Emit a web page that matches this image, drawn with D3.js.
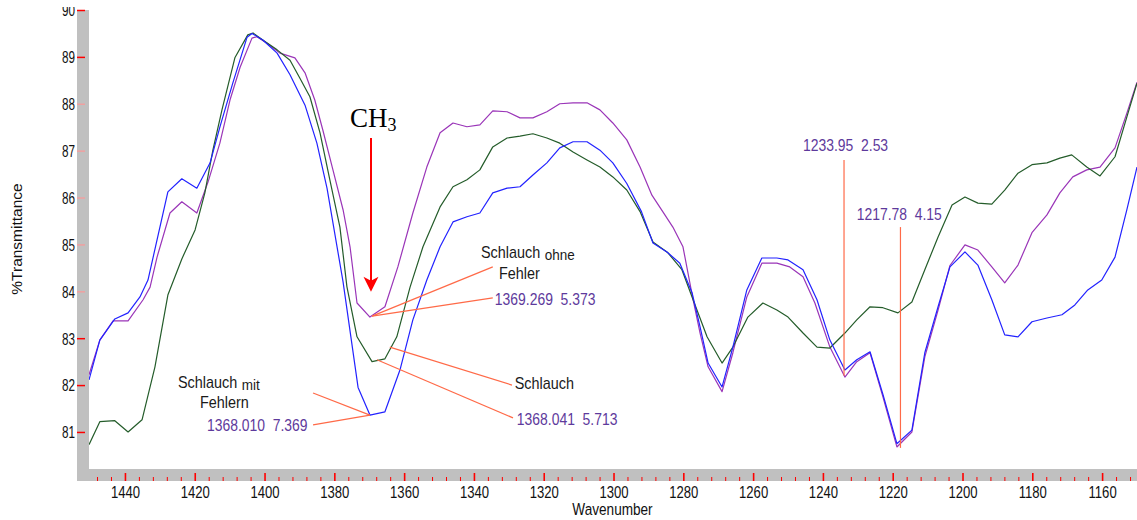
<!DOCTYPE html>
<html><head><meta charset="utf-8">
<script src="https://cdn.jsdelivr.net/npm/d3@7"></script>
<style>
html,body{margin:0;padding:0;background:#fff;}
svg{display:block;}
text{font-family:"Liberation Sans",Arial,sans-serif;}
</style></head>
<body><svg id="chart" width="1137" height="520"></svg>
<script>
// ---------- data ----------
const blueWn = [1450.3,1447.2,1442.9,1439.1,1435.7,1433.4,1427.7,1423.7,1419.4,1415.6,1412.8,1409.1,1405.0,1403.6,1400.5,1396.4,1392.7,1388.4,1385.0,1382.1,1377.5,1373.2,1369.8,1365.5,1361.2,1357.5,1353.5,1349.7,1346.0,1342.0,1338.3,1334.6,1330.5,1326.8,1323.1,1319.1,1315.4,1311.6,1307.6,1303.9,1300.2,1296.2,1292.0,1288.7,1284.7,1281.0,1277.5,1275.2,1272.9,1268.9,1265.8,1261.8,1257.5,1253.2,1250.0,1245.7,1241.7,1238.0,1233.7,1230.3,1226.5,1222.8,1218.8,1214.5,1210.8,1207.0,1203.6,1199.3,1195.6,1191.6,1187.9,1184.1,1180.1,1175.8,1171.5,1167.8,1164.1,1160.1,1156.3,1152.9,1150.0];
const blueT = [82.11,82.96,83.41,83.54,83.88,84.24,86.12,86.40,86.20,86.74,87.50,88.44,89.42,89.50,89.36,89.08,88.62,87.97,87.16,86.20,84.20,81.95,81.36,81.43,82.32,83.39,84.24,84.95,85.48,85.59,85.67,86.10,86.20,86.23,86.48,86.74,87.06,87.19,87.19,87.01,86.74,86.30,85.70,85.03,84.84,84.60,83.97,83.24,82.47,81.96,82.81,84.03,84.71,84.71,84.67,84.46,83.82,82.96,82.32,82.54,82.71,81.80,80.75,81.04,82.69,83.67,84.52,84.84,84.56,83.82,83.07,83.03,83.35,83.43,83.50,83.71,84.03,84.24,84.73,85.74,86.65];

const purpleWn = [1450.3,1447.2,1443.4,1439.1,1434.8,1432.8,1430.8,1427.1,1423.7,1419.4,1416.2,1412.8,1409.9,1407.0,1403.6,1402.2,1399.3,1395.6,1391.3,1388.4,1385.6,1383.3,1380.4,1377.5,1375.5,1373.5,1369.8,1365.5,1361.8,1357.5,1353.5,1349.7,1346.0,1342.0,1338.3,1334.6,1330.5,1326.8,1323.1,1319.1,1315.4,1311.6,1307.6,1303.9,1300.2,1296.2,1292.4,1289.0,1285.8,1283.0,1280.1,1277.2,1275.2,1272.9,1268.9,1265.8,1261.8,1257.5,1253.2,1249.5,1245.7,1242.3,1238.0,1233.7,1230.3,1226.5,1222.8,1218.8,1214.5,1210.8,1207.0,1203.6,1199.3,1195.6,1191.6,1187.9,1184.1,1180.1,1175.8,1172.1,1168.4,1164.4,1160.6,1156.3,1152.9,1150.0];
const purpleT = [82.22,82.96,83.37,83.37,83.82,84.09,84.73,85.67,85.91,85.67,86.33,87.16,88.08,88.78,89.40,89.43,89.29,89.08,88.98,88.66,88.08,87.44,86.59,85.74,84.95,83.75,83.45,83.67,84.52,85.67,86.65,87.38,87.59,87.51,87.55,87.85,87.83,87.70,87.70,87.83,88.00,88.02,88.02,87.87,87.59,87.23,86.65,86.05,85.69,85.37,84.95,83.82,83.11,82.39,81.86,82.69,83.88,84.60,84.60,84.52,84.31,83.75,82.81,82.17,82.50,82.69,81.75,80.68,81.00,82.60,83.60,84.55,84.99,84.88,84.52,84.18,84.56,85.25,85.63,86.10,86.44,86.59,86.65,87.06,87.80,88.46];

const greenWn = [1450.3,1447.2,1442.9,1439.1,1435.1,1431.4,1427.7,1423.7,1419.9,1417.1,1414.8,1412.2,1408.5,1404.8,1403.3,1400.5,1396.4,1392.7,1389.9,1387.0,1384.1,1381.3,1378.4,1376.4,1373.5,1369.2,1365.5,1362.1,1358.3,1354.6,1349.7,1346.0,1342.0,1338.3,1334.6,1330.5,1326.8,1323.1,1319.1,1315.4,1311.6,1307.6,1303.9,1300.2,1296.2,1292.4,1288.7,1284.4,1280.4,1277.2,1273.2,1268.9,1265.8,1261.5,1257.2,1253.2,1250.0,1245.7,1241.7,1238.0,1233.7,1230.3,1226.5,1222.8,1218.5,1214.5,1210.8,1207.0,1203.0,1199.3,1195.6,1191.6,1187.9,1184.1,1180.1,1175.8,1172.1,1168.7,1164.4,1160.6,1156.3,1152.9,1150.0];
const greenT = [80.73,81.22,81.24,81.00,81.26,82.39,83.92,84.69,85.31,86.10,87.01,87.87,88.98,89.47,89.51,89.36,89.15,88.93,88.55,88.15,87.38,86.38,85.37,84.10,83.03,82.50,82.56,83.03,84.09,84.95,85.80,86.23,86.38,86.59,87.08,87.27,87.31,87.36,87.27,87.16,86.97,86.80,86.65,86.44,86.16,85.70,85.05,84.82,84.46,83.82,83.03,82.47,82.81,83.45,83.75,83.60,83.45,83.11,82.81,82.79,83.11,83.39,83.67,83.65,83.54,83.77,84.46,85.16,85.84,86.01,85.88,85.86,86.16,86.52,86.70,86.74,86.84,86.91,86.65,86.46,86.87,87.72,88.44];

const yTicks = [90,89,88,87,86,85,84,83,82,81];
const xMajorTicks = [1440,1420,1400,1380,1360,1340,1320,1300,1280,1260,1240,1220,1200,1180,1160];
const xMinorTicks = d3.range(1448, 1150, -4);
const xTitle = "Wavenumber";
const yTitle = "%Transmittance";

// annotation texts and anchors (wavenumber, transmittance)
const peakLabels = ["1369.269  5.373","1368.041  5.713","1368.010  7.369","1233.95  2.53","1217.78  4.15"];
const peakLabelPos = [[1334.0,83.71],[1327.7,81.15],[1416.5,81.02],[1245.7,86.99],[1230.3,85.52]];
const leaderFrom = [[1369.2,83.47],[1369.2,83.47],[1364.1,82.81],[1367.8,82.54],[1369.8,81.36],[1369.8,81.36],[1233.95,86.80],[1217.78,85.37]];
const leaderTo   = [[1334.6,84.52],[1334.6,83.86],[1329.1,82.00],[1328.8,81.30],[1386.1,81.83],[1386.1,81.15],[1233.95,82.20],[1217.78,80.66]];

// ---------- layout ----------
const W = 1137, H = 520;
const svg = d3.select("#chart");
const x = d3.scaleLinear().domain([1450.3, 1150.0]).range([89, 1137]);
const y = d3.scaleLinear().domain([80.21, 90]).range([469, 10]);

svg.append("rect").attr("width", W).attr("height", H).attr("fill", "#fff");

// grey frame bands
svg.append("rect").attr("x", 77).attr("y", y(90)).attr("width", 12).attr("height", 481 - y(90)).attr("fill", "#c0c0c0");
svg.append("rect").attr("x", 77).attr("y", 469).attr("width", W - 77).attr("height", 12).attr("fill", "#c0c0c0");

// y axis
const brightY = new Set([90, 89, 83, 82, 81]);
const gy = svg.append("g").attr("transform", "translate(85,0)")
  .call(d3.axisLeft(y).tickValues(yTicks).tickSize(8).tickFormat(d3.format("d")));
gy.select(".domain").remove();
gy.selectAll(".tick line").attr("stroke", d => brightY.has(d) ? "#ff0000" : "#f0a0a0").attr("stroke-width", 1.5);
gy.selectAll(".tick text").attr("x", null).attr("dy", "0.36em")
  .attr("transform", "translate(-10,0) scale(0.72,1)")
  .style("font-size", "16.3px").attr("fill", "#111");

// x axis ticks
const gxMinor = svg.append("g").attr("transform", "translate(0,481)")
  .call(d3.axisTop(x).tickValues(xMinorTicks.filter(v => v % 20 !== 0)).tickSize(4).tickFormat(""));
gxMinor.select(".domain").remove();
gxMinor.selectAll(".tick line").attr("stroke", "#ff0000").attr("stroke-width", 1);
const gxMajor = svg.append("g").attr("transform", "translate(0,481)")
  .call(d3.axisTop(x).tickValues(xMajorTicks).tickSize(8).tickFormat(""));
gxMajor.select(".domain").remove();
gxMajor.selectAll(".tick line").attr("stroke", "#ff0000").attr("stroke-width", 1.6);
const gxLab = svg.append("g").attr("transform", "translate(0,481)")
  .call(d3.axisBottom(x).tickValues(xMajorTicks).tickSize(0).tickFormat(d3.format("d")));
gxLab.select(".domain").remove();
gxLab.selectAll(".tick text").attr("y", null).attr("dy", null)
  .attr("transform", "translate(0,17) scale(0.77,1)")
  .style("font-size", "17px").attr("fill", "#111");

// axis titles
svg.append("text").attr("transform", "translate(612.5,515) scale(0.8,1)")
  .attr("text-anchor", "middle").style("font-size", "17px").attr("fill", "#111").text(xTitle);
svg.append("text").attr("transform", "translate(22,239) rotate(-90)")
  .attr("text-anchor", "middle").style("font-size", "15.5px").attr("fill", "#111").text(yTitle);

// clip region
svg.append("clipPath").attr("id", "plotClip").append("rect")
  .attr("x", 89).attr("y", y(90)).attr("width", W - 89).attr("height", 469 - y(90));

const line = d3.line().x(d => x(d[0])).y(d => y(d[1]));
const series = [
  {wn: purpleWn, t: purpleT, color: "#9a35b8"},
  {wn: greenWn, t: greenT, color: "#245c2a"},
  {wn: blueWn, t: blueT, color: "#2222ff"}
];
const gLines = svg.append("g").attr("clip-path", "url(#plotClip)");
series.forEach(s => {
  gLines.append("path").datum(s.wn.map((w, i) => [w, s.t[i]]))
    .attr("d", line).attr("fill", "none").attr("stroke", s.color)
    .attr("stroke-width", 1.2).attr("stroke-linejoin", "round");
});

// leader lines
leaderFrom.forEach((f, i) => {
  const t = leaderTo[i];
  svg.append("line").attr("x1", x(f[0])).attr("y1", y(f[1])).attr("x2", x(t[0])).attr("y2", y(t[1]))
    .attr("stroke", "#ff6a48").attr("stroke-width", 1.2);
});

// peak number labels
peakLabels.forEach((s, i) => {
  const p = peakLabelPos[i];
  svg.append("text").attr("transform", `translate(${x(p[0])},${y(p[1])}) scale(0.87,1)`)
    .style("font-size", "16px").style("white-space", "pre").attr("fill", "#5e3a9c").text(s);
});

// name labels
function nameLabel(wn, t, main, small) {
  const tx = svg.append("text").attr("transform", `translate(${x(wn)},${y(t)}) scale(0.9,1)`)
    .style("font-size", "16px").attr("fill", "#1a1a1a");
  tx.append("tspan").text(main);
  if (small) tx.append("tspan").attr("dx", 5).attr("dy", 2).style("font-size", "15px").text(small);
}
nameLabel(1338.0, 84.71, "Schlauch", "ohne");
nameLabel(1332.8, 84.26, "Fehler");
nameLabel(1328.3, 81.92, "Schlauch");
nameLabel(1424.8, 81.94, "Schlauch", "mit");
nameLabel(1418.5, 81.51, "Fehlern");

// CH3 with arrow
const ch = svg.append("text").attr("x", x(1375.5)).attr("y", y(87.50))
  .style("font-family", "'Liberation Serif','Times New Roman',serif").style("font-size", "27px").attr("fill", "#000");
ch.append("tspan").text("CH");
ch.append("tspan").attr("dy", 4).style("font-size", "18px").text("3");

const ax = x(1369.5), aTop = y(87.27), aTip = y(83.99);
svg.append("line").attr("x1", ax).attr("x2", ax).attr("y1", aTop).attr("y2", aTip - 10)
  .attr("stroke", "#ff0000").attr("stroke-width", 2);
svg.append("path")
  .attr("d", `M${ax - 7.5},${aTip - 15} L${ax},${aTip - 11} L${ax + 7.5},${aTip - 15} L${ax},${aTip} Z`)
  .attr("fill", "#ff0000");

// top cover (clips the top of the first y label like the original)
svg.append("rect").attr("x", 0).attr("y", 0).attr("width", 89).attr("height", 7).attr("fill", "#fff");
</script>
</body></html>
